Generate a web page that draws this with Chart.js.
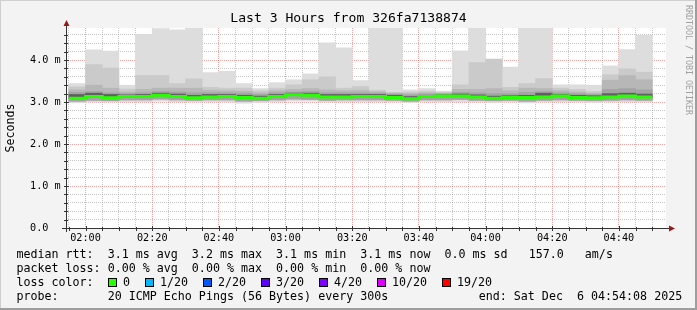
<!DOCTYPE html>
<html>
<head>
<meta charset="utf-8">
<script src="https://cdn.jsdelivr.net/npm/chart.js@4.4.1/dist/chart.umd.min.js"></script>
<style>
  body { margin: 0; background: #f3f3f3; }
  #smoke { display: block; }
</style>
</head>
<body>
<canvas id="smoke" width="697" height="310"></canvas>
<script>
// 5 minute bins (start time of each bin)
const binStart = [
  "01:55", "02:00", "02:05", "02:10", "02:15", "02:20", "02:25", "02:30", "02:35", "02:40",
  "02:45", "02:50", "02:55", "03:00", "03:05", "03:10", "03:15", "03:20", "03:25", "03:30",
  "03:35", "03:40", "03:45", "03:50", "03:55", "04:00", "04:05", "04:10", "04:15", "04:20",
  "04:25", "04:30", "04:35", "04:40", "04:45"
];

// smoke: ping times in ms, from the slowest ping down to the fastest one
const maxPing = [3.44, 4.24, 4.21, 3.40, 4.61, 4.75, 4.72, 4.80, 3.70, 3.73,
                 3.44, 3.32, 3.46, 3.53, 3.67, 4.41, 4.29, 3.51, 4.80, 4.80,
                 3.29, 3.32, 3.26, 4.22, 4.80, 4.02, 3.83, 4.80, 4.80, 3.41,
                 3.41, 3.40, 3.86, 4.25, 4.59];
const ping19 = [3.36, 3.89, 3.81, 3.31, 3.63, 3.63, 3.44, 3.55, 3.35, 3.33,
                3.33, 3.27, 3.33, 3.41, 3.53, 3.60, 3.33, 3.37, 3.28, 3.23,
                3.24, 3.26, 3.23, 3.41, 3.94, 4.02, 3.35, 3.44, 3.56, 3.33,
                3.30, 3.25, 3.65, 3.79, 3.71];
const ping18 = [3.29, 3.40, 3.33, 3.24, 3.30, 3.33, 3.33, 3.33, 3.28, 3.27,
                3.26, 3.22, 3.27, 3.30, 3.32, 3.29, 3.27, 3.28, 3.24, 3.21,
                3.20, 3.22, 3.21, 3.30, 3.30, 3.32, 3.27, 3.33, 3.32, 3.27,
                3.24, 3.21, 3.52, 3.63, 3.53];
const ping17 = [3.23, 3.25, 3.22, 3.20, 3.22, 3.25, 3.24, 3.22, 3.22, 3.22,
                3.21, 3.18, 3.22, 3.24, 3.25, 3.22, 3.22, 3.22, 3.21, 3.19,
                3.17, 3.19, 3.19, 3.23, 3.22, 3.20, 3.20, 3.23, 3.25, 3.22,
                3.20, 3.18, 3.30, 3.32, 3.29];
const darkTop = [3.18, 3.21, 3.18, 3.17, 3.18, 3.21, 3.19, 3.16, 3.18, 3.18,
                 3.16, 3.14, 3.18, 3.21, 3.21, 3.18, 3.18, 3.18, 3.18, 3.16,
                 3.13, 3.16, 3.17, 3.19, 3.17, 3.14, 3.15, 3.16, 3.21, 3.18,
                 3.16, 3.15, 3.20, 3.21, 3.19];
const medianRtt = [3.09, 3.13, 3.10, 3.13, 3.13, 3.16, 3.13, 3.10, 3.12, 3.13,
                   3.11, 3.09, 3.13, 3.17, 3.16, 3.12, 3.12, 3.13, 3.13, 3.11,
                   3.08, 3.13, 3.14, 3.14, 3.12, 3.09, 3.11, 3.11, 3.12, 3.14,
                   3.11, 3.10, 3.12, 3.14, 3.12];
const lowPing = [3.02, 3.04, 3.03, 3.05, 3.05, 3.07, 3.05, 3.04, 3.05, 3.05,
                 3.02, 3.03, 3.05, 3.07, 3.06, 3.04, 3.05, 3.05, 3.05, 3.04,
                 3.02, 3.05, 3.05, 3.06, 3.04, 3.03, 3.04, 3.02, 3.04, 3.05,
                 3.04, 3.03, 3.04, 3.05, 3.04];
const minPing = [2.98, 3.00, 3.00, 3.01, 3.01, 3.02, 3.01, 3.00, 3.01, 3.00,
                 2.97, 2.99, 3.01, 3.02, 3.02, 3.00, 3.01, 3.01, 3.01, 3.00,
                 2.99, 3.01, 3.00, 3.01, 3.00, 2.99, 3.00, 2.98, 3.00, 3.01,
                 3.00, 2.99, 3.00, 3.01, 3.00];

const xTickLabels = ["02:00", "02:20", "02:40", "03:00", "03:20", "03:40", "04:00", "04:20", "04:40"];
const yTickValues = [0, 1, 2, 3, 4];
const yTickLabels = ["0.0", "1.0 m", "2.0 m", "3.0 m", "4.0 m"];

const lossColors = ["#26ff00", "#00b8ff", "#0059ff", "#5e00ff", "#7e00ff", "#dd00ff", "#ff0000"];
const lossLabels = ["0", "1/20", "2/20", "3/20", "4/20", "10/20", "19/20"];

const startMin = 114 + 8 / 60;   // 01:54:08
const endMin = 294 + 8 / 60;     // 04:54:08
const MONO = '"DejaVu Sans Mono", monospace';

function toMinutes(hhmm) {
  const p = hhmm.split(":");
  return parseInt(p[0]) * 60 + parseInt(p[1]);
}

function band(label, lows, highs, colour) {
  return {
    type: "bar",
    label: label,
    data: binStart.map((t, i) => ({ x: toMinutes(t) + 2.5, y: [lows[i], highs[i]] })),
    backgroundColor: colour,
    borderWidth: 0,
    barPercentage: 1,
    categoryPercentage: 1,
    grouped: false
  };
}

// median line, drawn as steps over each bin
const medianPoints = binStart.map((t, i) => ({ x: toMinutes(t), y: medianRtt[i] }));
medianPoints.push({ x: toMinutes(binStart[binStart.length - 1]) + 5, y: medianRtt[medianRtt.length - 1] });

const gridMinor = "rgba(143,143,143,0.5)";
const gridMajor = "rgba(222,80,80,0.5)";

const decor = {
  id: "decor",
  beforeDraw(chart) {
    const { ctx, chartArea: a } = chart;
    ctx.save();
    ctx.fillStyle = "#f3f3f3";
    ctx.fillRect(0, 0, 697, 310);
    ctx.fillStyle = "#cfcfcf";
    ctx.fillRect(0, 0, 697, 1);
    ctx.fillRect(0, 0, 1, 310);
    ctx.fillStyle = "#9e9e9e";
    ctx.fillRect(0, 308, 697, 2);
    ctx.fillRect(695, 0, 2, 310);
    ctx.fillStyle = "#ffffff";
    ctx.fillRect(a.left, a.top, a.right - a.left, a.bottom - a.top);
    ctx.restore();
  },
  afterDraw(chart) {
    const { ctx, chartArea: a } = chart;
    const xs = chart.scales.x, ys = chart.scales.y;
    ctx.save();

    // axes
    ctx.strokeStyle = "#333";
    ctx.lineWidth = 1;
    ctx.beginPath();
    ctx.moveTo(a.left - 4, a.bottom + 0.5);
    ctx.lineTo(a.right + 5, a.bottom + 0.5);
    ctx.moveTo(a.left + 0.5, a.bottom + 4);
    ctx.lineTo(a.left + 0.5, a.top - 6);
    ctx.stroke();

    // tick marks
    ctx.beginPath();
    xs.ticks.forEach(t => {
      const px = Math.round(xs.getPixelForValue(t.value)) + 0.5;
      const major = t.value % 20 === 0;
      ctx.moveTo(px, a.bottom - (major ? 2 : 1));
      ctx.lineTo(px, a.bottom + 3);
    });
    ys.ticks.forEach(t => {
      const py = Math.round(ys.getPixelForValue(t.value)) + 0.5;
      const major = Math.abs(t.value - Math.round(t.value)) < 1e-6;
      ctx.moveTo(a.left - 2, py);
      ctx.lineTo(a.left + (major ? 3 : 2), py);
    });
    ctx.stroke();

    // arrows
    ctx.fillStyle = "#961919";
    ctx.beginPath();
    ctx.moveTo(a.right + 3, a.bottom - 2.5);
    ctx.lineTo(a.right + 3, a.bottom + 3.5);
    ctx.lineTo(a.right + 9, a.bottom + 0.5);
    ctx.closePath();
    ctx.fill();
    ctx.beginPath();
    ctx.moveTo(a.left - 2.5, a.top - 2);
    ctx.lineTo(a.left + 3.5, a.top - 2);
    ctx.lineTo(a.left + 0.5, a.top - 8);
    ctx.closePath();
    ctx.fill();

    // tick labels
    ctx.fillStyle = "#000";
    ctx.font = "10.2px " + MONO;
    ctx.textBaseline = "middle";
    ctx.textAlign = "left";
    yTickValues.forEach((v, i) => {
      ctx.fillText(yTickLabels[i], 30, ys.getPixelForValue(v) + 0.5);
    });
    ctx.textAlign = "center";
    xTickLabels.forEach(l => {
      ctx.fillText(l, xs.getPixelForValue(toMinutes(l)), 238);
    });

    // title
    ctx.font = "13.1px " + MONO;
    ctx.fillText("Last 3 Hours from 326fa7138874", 348.5, 19);

    // vertical label
    ctx.font = "11.6px " + MONO;
    ctx.save();
    ctx.translate(11, 128);
    ctx.rotate(-Math.PI / 2);
    ctx.fillText("Seconds", 0, 0);
    ctx.restore();

    // watermark
    ctx.save();
    ctx.fillStyle = "#a0a0a0";
    ctx.font = "8.3px " + MONO;
    ctx.textAlign = "left";
    ctx.translate(688, 5);
    ctx.rotate(Math.PI / 2);
    ctx.fillText("RRDTOOL / TOBI OETIKER", 0, 0);
    ctx.restore();

    // legend
    ctx.textAlign = "left";
    ctx.font = "11.66px " + MONO;
    ctx.fillText("median rtt:  3.1 ms avg  3.2 ms max  3.1 ms min  3.1 ms now  0.0 ms sd   157.0   am/s", 16.4, 255);
    ctx.fillText("packet loss: 0.00 % avg  0.00 % max  0.00 % min  0.00 % now", 16.4, 269);
    ctx.fillText("loss color:", 16.4, 283);
    const boxX = [108, 145, 203, 261, 319, 377, 442];
    lossColors.forEach((c, i) => {
      ctx.fillStyle = c;
      ctx.fillRect(boxX[i], 278, 9, 9);
      ctx.strokeStyle = "#000";
      ctx.strokeRect(boxX[i] + 0.5, 278.5, 8, 8);
      ctx.fillStyle = "#000";
      ctx.fillText(lossLabels[i], boxX[i] + 15, 283);
    });
    ctx.fillText("probe:       20 ICMP Echo Pings (56 Bytes) every 300s", 16.4, 297);
    ctx.fillText("end: Sat Dec  6 04:54:08 2025", 478.7, 297);
    ctx.restore();
  }
};

const ctx = document.getElementById("smoke").getContext("2d");

new Chart(ctx, {
  type: "bar",
  data: {
    datasets: [
      {
        type: "line",
        label: "median rtt",
        data: medianPoints,
        borderColor: lossColors[0],
        borderWidth: 3,
        pointRadius: 0,
        stepped: true,
        fill: false
      },
      band("core", medianRtt, darkTop, "#606060"),
      band("ping17", lowPing, ping17, "#a4a4a4"),
      band("ping18", lowPing, ping18, "#b7b7b7"),
      band("ping19", lowPing, ping19, "#cacaca"),
      band("max", minPing, maxPing, "#dddddd")
    ]
  },
  options: {
    responsive: false,
    animation: false,
    devicePixelRatio: 1,
    layout: { padding: { left: 66, right: 31, top: 28, bottom: 82 } },
    plugins: {
      legend: { display: false },
      tooltip: { enabled: false },
      title: { display: false }
    },
    scales: {
      x: {
        type: "linear",
        min: startMin,
        max: endMin,
        offset: false,
        z: 1,
        afterBuildTicks: scale => {
          const t = [];
          for (let m = 115; m <= 290; m += 5) t.push({ value: m });
          scale.ticks = t;
        },
        ticks: { display: false },
        border: { display: false, dash: [1, 1] },
        grid: {
          offset: false,
          drawTicks: false,
          lineWidth: 1,
          color: c => (c.tick && c.tick.value % 20 === 0 ? gridMajor : gridMinor)
        }
      },
      y: {
        min: 0,
        max: 200 / 42,
        z: 1,
        afterBuildTicks: scale => {
          const t = [];
          for (let i = 1; i <= 23; i++) t.push({ value: i / 5 });
          scale.ticks = t;
        },
        ticks: { display: false },
        border: { display: false, dash: [1, 1] },
        grid: {
          drawTicks: false,
          lineWidth: 1,
          color: c => (c.tick && Math.abs(c.tick.value - Math.round(c.tick.value)) < 1e-6 ? gridMajor : gridMinor)
        }
      }
    }
  },
  plugins: [decor]
});
</script>
</body>
</html>
